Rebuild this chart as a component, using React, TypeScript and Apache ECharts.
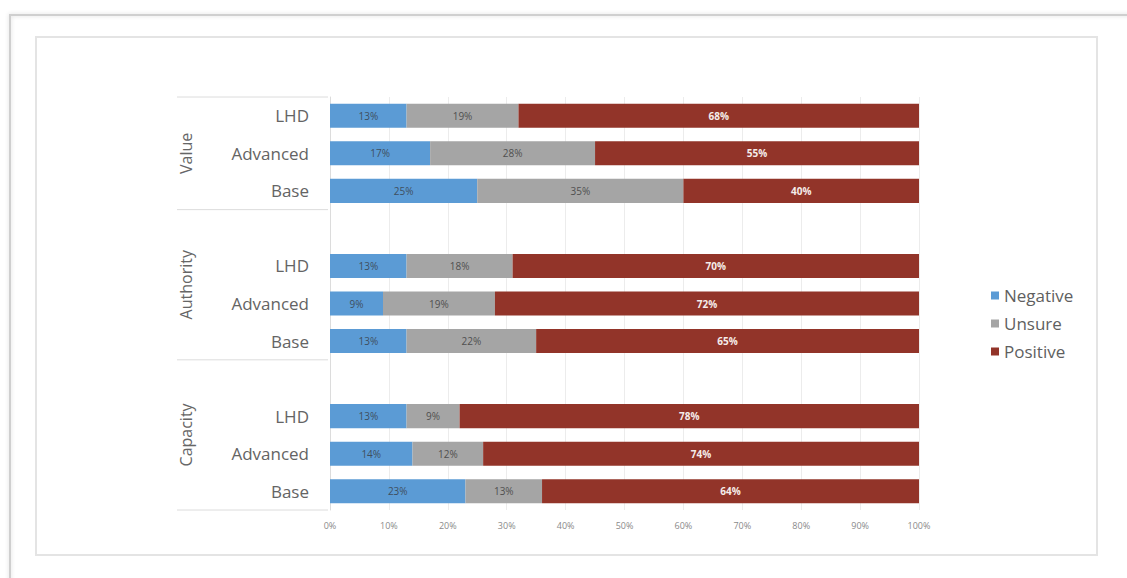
import React, { useEffect, useRef } from "react";
import * as echarts from "echarts";

// Rows, top to bottom; "" marks the spacer slot between groups
const categories = ["LHD", "Advanced", "Base", "", "LHD", "Advanced", "Base", "", "LHD", "Advanced", "Base"];
const groups = ["Value", "Authority", "Capacity"];
const negative = [13, 17, 25, null, 13, 9, 13, null, 13, 14, 23];
const unsure = [19, 28, 35, null, 18, 19, 22, null, 9, 12, 13];
const positive = [68, 55, 40, null, 70, 72, 65, null, 78, 74, 64];
const xTicks = [0, 10, 20, 30, 40, 50, 60, 70, 80, 90, 100];

const FONT = "'Open Sans', 'DejaVu Sans', sans-serif";
const GRID = { left: 330, right: 208, top: 97, bottom: 68 };

export default function App() {
  const ref = useRef<HTMLDivElement>(null);

  useEffect(() => {
    if (!ref.current) return;
    const chart = echarts.init(ref.current, undefined, { renderer: "svg" });
    const plotH = 578 - GRID.top - GRID.bottom;
    const slot = plotH / categories.length;
    // group spans in slot indices: [start, end)
    const spans = [
      [0, 3],
      [3, 7],
      [7, 11],
    ];
    const yAt = (i: number) => GRID.top + i * slot;

    const mkLabel = (color: string, bold = false) => ({
      show: true,
      position: "inside",
      formatter: (p: any) => (p.value == null ? "" : `${p.value}%`),
      fontSize: 10,
      fontWeight: bold ? "bold" : "normal",
      fontFamily: FONT,
      color,
    });

    const graphic: any[] = [
      {
        type: "rect",
        shape: { x: 10, y: 15, width: 1140, height: 600 },
        style: { fill: "none", stroke: "#cfcfcf", lineWidth: 2, shadowBlur: 4, shadowColor: "rgba(0,0,0,0.15)" },
        silent: true,
      },
      {
        type: "rect",
        shape: { x: 36, y: 37, width: 1061, height: 518 },
        style: { fill: "none", stroke: "#e4e4e4", lineWidth: 2 },
        silent: true,
      },
    ];
    // separators between groups on the label side
    [0, 3, 7, 11].forEach((i) => {
      graphic.push({
        type: "line",
        shape: { x1: 177, y1: yAt(i), x2: GRID.left - 2, y2: yAt(i) },
        style: { stroke: "#dcdcdc", lineWidth: 1 },
        silent: true,
      });
    });
    groups.forEach((g, k) => {
      const [s, e] = spans[k];
      graphic.push({
        type: "text",
        x: 186,
        y: (yAt(s) + yAt(e)) / 2,
        rotation: Math.PI / 2,
        style: {
          text: g,
          fontSize: 16,
          fontFamily: FONT,
          fill: "#666666",
          align: "center",
          verticalAlign: "middle",
        },
        silent: true,
      });
    });

    chart.setOption({
      animation: false,
      backgroundColor: "#ffffff",
      grid: GRID,
      legend: {
        orient: "vertical",
        left: 986,
        top: 282,
        itemWidth: 8,
        itemHeight: 8,
        itemGap: 11,
        icon: "rect",
        textStyle: { fontSize: 17, fontFamily: FONT, color: "#5f5f5f", padding: [0, 0, 0, 0] },
        data: ["Negative", "Unsure", "Positive"],
      },
      xAxis: {
        type: "value",
        min: 0,
        max: 100,
        interval: 10,
        axisLine: { show: false },
        axisTick: { show: false },
        splitLine: { show: true, lineStyle: { color: "#ececec", width: 1 } },
        axisLabel: {
          formatter: (v: number) => (xTicks.includes(v) ? `${v}%` : ""),
          fontSize: 9,
          fontFamily: FONT,
          color: "#8a8a8a",
          margin: 11,
        },
      },
      yAxis: {
        type: "category",
        inverse: true,
        data: categories,
        axisLine: { show: true, lineStyle: { color: "#dcdcdc", width: 1 } },
        axisTick: { show: false },
        splitLine: { show: false },
        axisLabel: { fontSize: 17, fontFamily: FONT, color: "#646464", margin: 21 },
      },
      series: [
        {
          name: "Negative",
          type: "bar",
          stack: "total",
          barCategoryGap: "36%",
          data: negative,
          itemStyle: { color: "#5b9bd5" },
          label: mkLabel("#3f4f5f"),
        },
        {
          name: "Unsure",
          type: "bar",
          stack: "total",
          data: unsure,
          itemStyle: { color: "#a5a5a5" },
          label: mkLabel("#505050"),
        },
        {
          name: "Positive",
          type: "bar",
          stack: "total",
          data: positive,
          itemStyle: { color: "#923429" },
          label: mkLabel("#f5ecea", true),
        },
      ],
      graphic,
    });

    return () => chart.dispose();
  }, []);

  return (
    <div
      ref={ref}
      style={{ position: "absolute", left: 0, top: 0, width: 1127, height: 578 }}
    />
  );
}
